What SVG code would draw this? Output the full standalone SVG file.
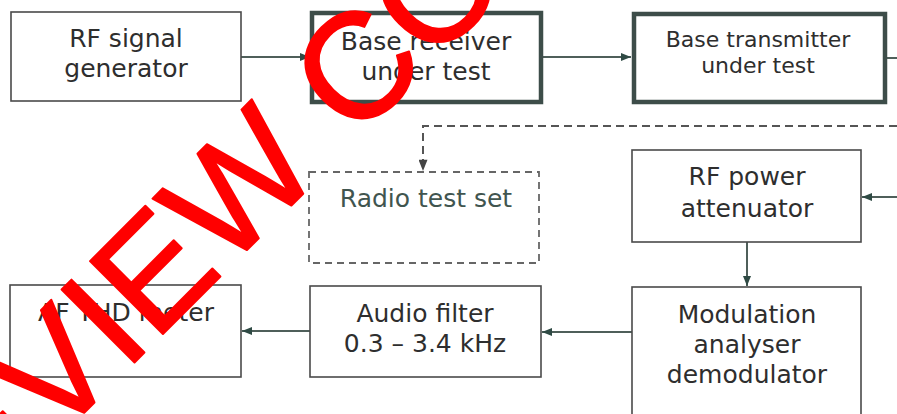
<svg xmlns="http://www.w3.org/2000/svg" width="897" height="414" viewBox="0 0 897 414">
<defs>
<style>
.box{fill:#fff;stroke:#4a4a4a;stroke-width:1.6}
.thick{fill:#fff;stroke:#3d4d49;stroke-width:4.5}
.dbox{fill:#fff;stroke:#666;stroke-width:1.8;stroke-dasharray:7 5}
.t{font-family:"DejaVu Sans",Verdana,sans-serif;font-size:25px;fill:#2e2e2e;text-anchor:middle}
.s{font-size:22px}
.g{fill:#41554f}
.ln{fill:none;stroke:#4f5f5a;stroke-width:2}
.dl{fill:none;stroke:#555;stroke-width:2;stroke-dasharray:8 5}
.wm{font-family:"Liberation Sans",Arial,sans-serif;font-size:150px;fill:#ff0000;stroke:#ff0000;stroke-width:2;stroke-linejoin:round}
</style>
<marker id="ah" viewBox="0 0 10 8" refX="10" refY="4" markerWidth="10" markerHeight="8" markerUnits="userSpaceOnUse" orient="auto">
<path d="M0,0 L10,4 L0,8 Z" fill="#2f4a44"/>
</marker>
<marker id="ahd" viewBox="0 0 10 8" refX="10" refY="4" markerWidth="12" markerHeight="9" markerUnits="userSpaceOnUse" orient="auto">
<path d="M0,0 L10,4 L0,8 Z" fill="#444"/>
</marker>
</defs>
<rect width="897" height="414" fill="#fff"/>
<g id="connectors">
<line class="ln" x1="241" y1="57" x2="310" y2="57" marker-end="url(#ah)"/>
<line class="ln" x1="543" y1="57" x2="631" y2="57" marker-end="url(#ah)"/>
<line class="ln" x1="887" y1="58" x2="897" y2="58"/>
<line class="ln" x1="897" y1="197" x2="862" y2="197" marker-end="url(#ah)"/>
<line class="ln" x1="747" y1="242" x2="747" y2="286" marker-end="url(#ah)"/>
<line class="ln" x1="632" y1="332" x2="542" y2="332" marker-end="url(#ah)"/>
<line class="ln" x1="310" y1="331" x2="242" y2="331" marker-end="url(#ah)"/>
<path class="dl" d="M897,126 H423 V171" marker-end="url(#ahd)"/>
</g>
<g id="rf-signal-generator">
<rect class="box" x="11" y="12" width="230" height="89"/>
<text class="t" x="126" y="47">RF signal</text>
<text class="t" x="126" y="77">generator</text>
</g>
<g id="base-receiver">
<rect class="thick" x="312" y="13" width="229" height="89"/>
<text class="t" x="426" y="50">Base receiver</text>
<text class="t" x="426" y="80">under test</text>
</g>
<g id="base-transmitter">
<rect class="thick" x="634" y="14" width="251" height="88"/>
<text class="t s" x="758" y="47">Base transmitter</text>
<text class="t s" x="758" y="73">under test</text>
</g>
<g id="radio-test-set">
<rect class="dbox" x="309" y="172" width="230" height="91"/>
<text class="t g" x="426" y="207">Radio test set</text>
</g>
<g id="rf-power-attenuator">
<rect class="box" x="632" y="150" width="229" height="92"/>
<text class="t" x="747" y="185">RF power</text>
<text class="t" x="747" y="217">attenuator</text>
</g>
<g id="modulation-analyser">
<rect class="box" x="632" y="287" width="229" height="140"/>
<text class="t" x="747" y="323">Modulation</text>
<text class="t" x="747" y="353">analyser</text>
<text class="t" x="747" y="383">demodulator</text>
</g>
<g id="audio-filter">
<rect class="box" x="310" y="286" width="231" height="91"/>
<text class="t" x="425" y="322">Audio filter</text>
<text class="t" x="425" y="352">0.3 – 3.4 kHz</text>
</g>
<g id="af-thd-meter">
<rect class="box" x="10" y="285" width="231" height="92"/>
<text class="t" x="126" y="321">AF THD meter</text>
</g>
<g id="watermark">
<text class="wm" transform="translate(-164,661) rotate(-45)">PREVIEW COPY</text>
</g>
</svg>
